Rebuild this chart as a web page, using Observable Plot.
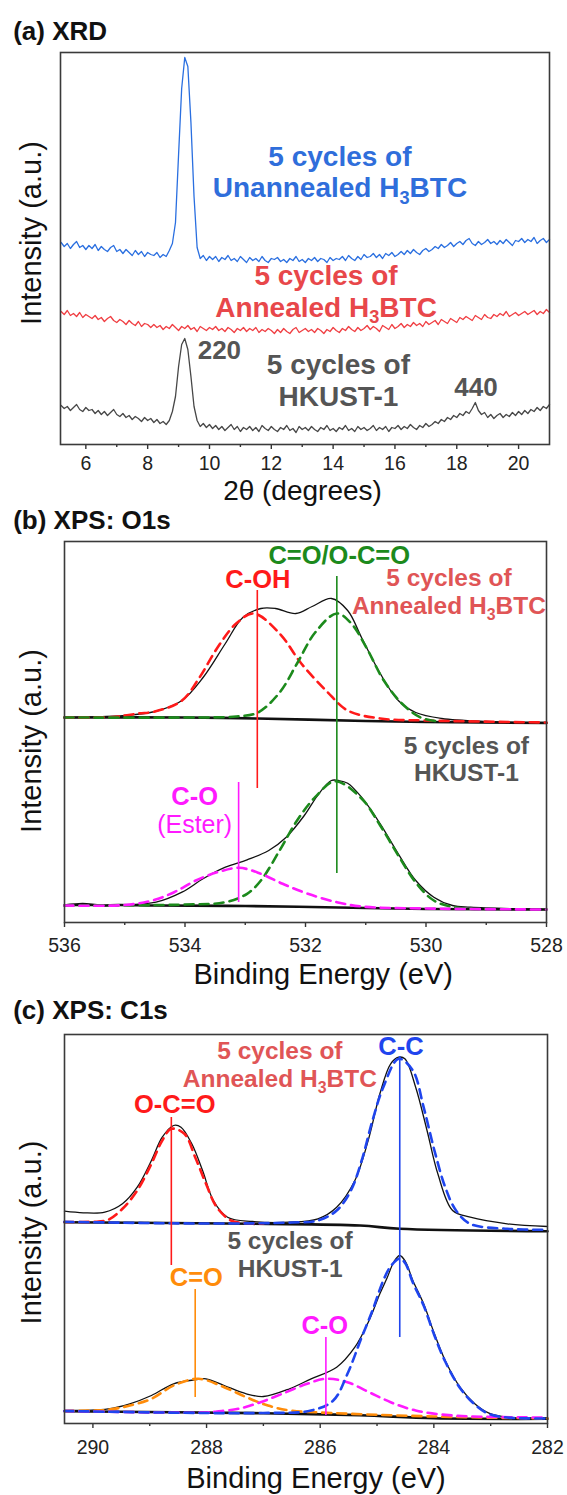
<!DOCTYPE html>
<html><head><meta charset="utf-8">
<script src="https://cdn.jsdelivr.net/npm/d3@7"></script>
<script src="https://cdn.jsdelivr.net/npm/@observablehq/plot@0.6"></script>
<style>
html,body{margin:0;padding:0;background:#fff;overflow:hidden;}
#root{position:relative;width:567px;height:1495px;}
#root svg{position:absolute;left:0;}
</style></head><body><div id="root"></div>
<script>
// ---------------- DATA ----------------
// (a) XRD, 2θ scanned from 5.2° in 0.1° steps
const thetaStart = 5.2, thetaStep = 0.1;
const xrdUnannealed = [
202,198,201,196,200,203,197,199,195,199,
196,200,194,198,195,193,197,199,193,195,
191,195,192,189,194,190,193,188,192,190,
189,192,187,190,188,194,201,222,290,356,
387,378,322,248,197,186,189,184,188,185,
188,183,187,185,189,184,186,183,188,185,
182,187,184,186,183,188,184,182,186,185,
187,183,185,182,186,184,188,183,185,182,
186,184,187,183,186,185,182,187,184,186,
185,188,184,189,186,184,188,185,190,187,
188,191,187,190,186,191,189,192,188,190,
193,190,194,191,195,192,190,194,196,193,
195,198,196,200,197,199,202,198,201,203,
200,204,206,201,199,203,200,202,205,201,
203,200,204,201,205,202,199,204,203,206,
202,205,203,207,201,204,206,202,205];
const xrdAnnealed = [
133,130,134,129,131,128,132,127,130,128,
126,129,125,127,123,126,128,124,122,125,
123,120,124,121,119,123,118,121,120,117,
120,117,119,115,118,116,120,117,114,118,
116,119,115,117,113,118,116,114,117,115,
118,114,116,113,117,115,112,116,114,117,
113,116,114,117,112,115,113,116,114,111,
115,112,116,113,111,115,117,112,114,116,
113,115,112,116,114,111,115,113,117,114,
112,116,114,118,115,113,117,114,116,119,
115,118,116,113,119,117,115,120,116,118,
121,117,120,118,122,119,121,118,123,120,
122,124,120,125,123,121,126,124,122,127,
125,128,126,124,129,127,125,130,127,126,
130,128,131,129,133,128,130,132,129,131,
133,130,132,134,130,133,131,135,132];
const xrdHKUST = [
39,36,38,34,37,40,35,33,37,34,
35,31,34,30,33,29,32,35,30,28,
31,27,29,25,28,26,23,27,24,26,
22,25,21,23,20,24,33,48,78,100,
106,95,68,38,24,18,21,17,20,16,
19,15,18,14,17,20,15,18,13,17,
15,18,14,17,13,19,16,14,18,15,
13,17,15,19,14,16,12,18,15,17,
14,18,15,13,17,15,19,14,16,13,
17,15,19,14,16,13,18,15,17,14,
16,19,14,17,15,18,13,17,16,19,
15,18,16,20,17,15,19,17,21,18,
20,23,21,25,23,27,25,29,27,31,
29,33,31,36,42,34,30,32,27,30,
26,29,31,27,30,28,32,29,33,30,
34,31,35,33,37,34,38,36,40];
const xrdTicks = [6, 8, 10, 12, 14, 16, 18, 20];
const xrdMinor = [7, 9, 11, 13, 15, 17, 19];
const xrdSampleLabels = [
  {x: 14.22, y: 247.3, text: "5 cycles of\nUnannealed H3BTC", key: "unannealed"},
  {x: 13.77, y: 127.8, text: "5 cycles of\nAnnealed H3BTC", key: "annealedA"},
  {x: 14.17, y: 38.8, text: "5 cycles of\nHKUST-1", key: "hkust"}
];
const xrdPeakLabels = [
  {x: 10.32, y: 86, text: "220", key: "hkust"},
  {x: 18.62, y: 49, text: "440", key: "hkust"}
];

// (b) XPS O1s  [binding energy eV, intensity a.u.]
const o1sAnnBg = [[536,205],[534,205],[532.8,204],[531,201.5],[530,200.5],[528,199.5]];
const o1sAnnEnv = [[536,205],[535.5,205.5],[535,207],[534.5,211],[534.05,222],[533.7,245],[533.33,279],[533.04,305],[532.74,314],[532.5,314],[532.16,309],[531.89,316],[531.57,324],[531.3,312],[531.07,285],[530.76,249],[530.46,222],[530.17,210],[529.74,204],[529,201],[528,200]];
const o1sAnnCOH = [[536,205],[535.2,205.5],[534.77,209],[534.5,211],[534.05,222],[533.76,245],[533.46,275],[533.15,299],[532.86,309],[532.43,289],[532.07,259],[531.66,232],[531.3,212],[530.76,204],[530,202],[528,200]];
const o1sAnnCO = [[536,205],[534,205],[533.15,206],[532.79,210],[532.43,230],[532.14,259],[531.84,290],[531.48,309],[531.24,299],[530.99,275],[530.7,242],[530.4,219],[530.09,205],[529.8,201]];
const o1sHkBg = [[536,17],[535.7,18.5],[535.4,17],[535.1,17.5],[534.5,17],[533,16.5],[531,14.5],[530,13.5],[528,13]];
const o1sHkEnv = [[536,17],[535,17.5],[534.48,20.3],[534.05,30.3],[533.7,43.7],[533.33,55.3],[532.97,62.7],[532.61,72],[532.32,85.3],[532.02,107],[531.78,128.7],[531.57,142],[531.45,142],[531.3,139.3],[531.07,125.3],[530.76,98.7],[530.46,68.7],[530.17,42],[529.87,25.3],[529.56,17],[529.26,15.3],[528,13]];
const o1sHkCO = [[536,17],[534,18],[533.33,20.3],[532.97,28.7],[532.74,42],[532.43,72],[532.14,102],[531.84,125.3],[531.51,141.3],[531.07,124],[530.76,97],[530.46,67],[530.17,40],[529.87,22],[529.5,15],[529,13.5]];
const o1sHkEster = [[536,17],[535,17.5],[534.54,22],[534.18,30.3],[533.82,42],[533.46,50.3],[533.1,54.7],[532.74,48.7],[532.38,38.7],[531.96,28.7],[531.48,20.3],[531.07,16],[530,14],[528,13]];
const o1sMarkers = [
  {eV: 532.8, y1: 134, y2: 332, key: "COH"},
  {eV: 531.48, y1: 49, y2: 346, key: "COgreen"},
  {eV: 533.11, y1: 20, y2: 140, key: "Ester"}
];
const o1sTicks = [536, 534, 532, 530, 528];
const o1sMinor = [535, 533, 531, 529];
const o1sPeakLabels = [
  {x: 531.44, y: 359, text: "C=O/O-C=O", key: "COgreen"},
  {x: 532.79, y: 335, text: "C-OH", key: "COH"}
];
const o1sEsterLabel = [{x: 533.84, y: 89.2, text: "C-O\n(Ester)", key: "Ester"}];
const o1sAnnLabel = [{x: 529.62, y: 308.8, text: "5 cycles of\nAnnealed H3BTC", key: "annealed"}];
const o1sHkLabel = [{x: 529.33, y: 141.3, text: "5 cycles of\nHKUST-1", key: "hkust"}];

// (c) XPS C1s
const c1sAnnBg = [[290.5,201.3],[287.2,199.7],[285.3,198],[284.6,194.7],[282,192.3]];
const c1sAnnEnv = [[290.5,212.3],[290.17,210.7],[289.79,211.3],[289.48,219.7],[289.22,236.3],[288.97,263],[288.78,286.3],[288.58,298],[288.45,296.3],[288.26,279.7],[288.07,253],[287.88,223],[287.63,206.3],[287.19,202],[286.54,201.3],[286.04,204.7],[285.71,216.3],[285.39,243],[285.14,286.3],[284.95,329.7],[284.76,359.7],[284.62,366.3],[284.51,364.7],[284.32,336.3],[284.12,293],[283.93,249.7],[283.67,213],[283.36,206.3],[282.71,199.7],[282,197]];
const c1sAnnOCO = [[290.5,201.5],[289.9,202],[289.73,203.7],[289.48,214.7],[289.22,233],[288.97,259.7],[288.78,283],[288.62,294.7],[288.39,289.7],[288.2,266.3],[288.01,239.7],[287.82,216.3],[287.57,203],[287.3,200.3],[287,200]];
const c1sAnnCC = [[290.5,201.7],[288,200],[286.5,201],[286.04,203],[285.71,213],[285.46,233],[285.27,263],[285.08,303],[284.89,336.3],[284.62,364.7],[284.37,353],[284.18,316.3],[283.99,273],[283.8,236.3],[283.61,213],[283.36,199.7],[282.71,194.7],[282,193.7]];
const c1sHkBg = [[290.5,12.3],[287,10.3],[285.3,8.3],[284,5.3],[282,4.7]];
const c1sHkEnv = [[290.5,13],[289.73,14.7],[289.35,19.7],[288.97,28],[288.58,39.7],[288.2,43.7],[288.01,44.7],[287.69,38],[287.3,29.7],[287.0,27],[286.54,34.7],[286.16,44.7],[285.71,56.3],[285.39,76.3],[285.14,103],[284.95,129.7],[284.82,146],[284.7,162],[284.6,168],[284.5,162],[284.37,143],[284.18,119.7],[283.99,89.7],[283.8,63],[283.54,36.3],[283.28,19.7],[283.03,10.3],[282.71,6.3],[282,5.7]];
const c1sHkCC = [[290.5,12.5],[287,10.5],[286.16,13],[285.77,23],[285.52,49.7],[285.27,86.3],[285.08,113],[284.89,143],[284.75,158],[284.6,165],[284.5,160],[284.37,141],[284.18,118],[283.99,88],[283.8,62],[283.54,35.5],[283.28,19],[283.03,9.5],[282.71,6],[282,5]];
const c1sHkCdO = [[290.5,12.5],[290,13],[289.73,13.7],[289.35,18],[288.97,24.7],[288.58,38],[288.14,44.7],[287.69,36.3],[287.3,26.3],[286.92,18],[286.54,13],[286,11],[284,7],[282,5]];
const c1sHkCO = [[290.5,12.5],[288,11],[287.82,12],[287.44,14.7],[287.05,21.3],[286.67,29.7],[286.23,39.7],[285.9,44.7],[285.52,41.3],[285.14,31.3],[284.76,21.3],[284.32,13],[283.67,8],[282,6]];
const c1sMarkers = [
  {eV: 288.62, y1: 158, y2: 306, key: "OCO"},
  {eV: 284.6, y1: 86, y2: 367, key: "CC"},
  {eV: 288.2, y1: 26, y2: 134, key: "CdO"},
  {eV: 285.9, y1: 8, y2: 86, key: "COmag"}
];
const c1sTicks = [290, 288, 286, 284, 282];
const c1sMinor = [289, 287, 285, 283];
const c1sPeakLabels = [
  {x: 284.58, y: 369, text: "C-C", key: "CC"},
  {x: 288.56, y: 311, text: "O-C=O", key: "OCO"},
  {x: 288.18, y: 138, text: "C=O", key: "CdO"},
  {x: 285.92, y: 90, text: "C-O", key: "COmag"}
];
const c1sAnnLabel = [{x: 286.71, y: 336.8, text: "5 cycles of\nAnnealed H3BTC", key: "annealed"}];
const c1sHkLabel = [{x: 286.53, y: 146.8, text: "5 cycles of\nHKUST-1", key: "hkust"}];

// ---------------- STYLE ----------------
const F = "'Liberation Sans', Arial, Helvetica, sans-serif";
const C = {
  unannealed: "#2F6EDB", annealedA: "#E8474A", annealed: "#E05556", hkust: "#555555",
  xrdBlue: "#2A6FE0", xrdRed: "#F03E42", xrdGray: "#474747",
  COH: "#FF1A1A", COgreen: "#1C8A1C", Ester: "#FF1AFF",
  CC: "#1F45EE", OCO: "#FF1A1A", CdO: "#FF8C0A", COmag: "#FF1AFF"
};
const dash = "9,6";
const LH = 1.12;

// ---------------- HELPERS ----------------
const NS = "http://www.w3.org/2000/svg";
function postText(svg) {
  svg.querySelectorAll("text, tspan").forEach(t => {
    if (t.childElementCount) return;
    const s = t.textContent;
    if (s.includes("H3BTC")) {
      const [pre, post] = s.split("H3BTC");
      t.textContent = "";
      t.appendChild(document.createTextNode(pre + "H"));
      const sub = document.createElementNS(NS, "tspan");
      sub.setAttribute("font-size", "65%");
      sub.setAttribute("dy", "0.37em");
      sub.textContent = "3";
      t.appendChild(sub);
      const rest = document.createElementNS(NS, "tspan");
      rest.setAttribute("dy", "-0.24em");
      rest.textContent = "BTC" + post;
      t.appendChild(rest);
    } else if (s === "(Ester)") {
      t.setAttribute("font-weight", "normal");
      t.setAttribute("font-size", "25");
    }
  });
}
function labels(arr, size, extra = {}) {
  return arr.map(d => Plot.text([d], {
    x: "x", y: "y", text: "text", fill: C[d.key], fontSize: size,
    fontWeight: "bold", textAnchor: "middle", lineAnchor: "bottom", ...extra
  }));
}
function xpsLine(arr, opts) {
  return Plot.line(arr, {x: d => d[0], y: d => d[1], curve: "catmull-rom", ...opts});
}
function axes(major, minor, pad) {
  return [
    Plot.axisX({ticks: major, tickSize: 5, tickPadding: pad, fontSize: 19.5, label: null,
      stroke: "#333", strokeWidth: 1.4, fill: "#222", fontFamily: F}),
    Plot.axisX({ticks: minor, tickSize: 3, tickFormat: () => "", label: null,
      stroke: "#333", strokeWidth: 1.4})
  ];
}
function common(title, titleDx, titleDy, yDx, yDy, xLabel, xDx, xDy, xSize = 29) {
  return [
    Plot.frame({stroke: "#3a3a3a", strokeWidth: 1.6}),
    Plot.text([title], {text: d => d, frameAnchor: "top-left", dx: titleDx, dy: titleDy,
      textAnchor: "start", lineAnchor: "bottom", fontSize: 26, fontWeight: "bold", fill: "#111"}),
    Plot.text(["Intensity (a.u.)"], {text: d => d, frameAnchor: "left", rotate: -90, dx: yDx, dy: yDy,
      textAnchor: "middle", lineAnchor: "middle", fontSize: 29, fill: "#111"}),
    Plot.text([xLabel], {text: d => d, frameAnchor: "bottom", dx: xDx, dy: xDy,
      textAnchor: "middle", lineAnchor: "bottom", fontSize: xSize, fill: "#111"})
  ];
}
function place(svg, top) {
  svg.style.top = top + "px";
  postText(svg);
  document.getElementById("root").appendChild(svg);
}
const baseStyle = {fontFamily: F, background: "transparent", overflow: "visible", color: "#222"};

// ---------------- (a) XRD ----------------
const xrdRows = [];
[[xrdUnannealed, "unannealed"], [xrdAnnealed, "annealed"], [xrdHKUST, "hkust"]].forEach(([arr, s]) =>
  arr.forEach((v, i) => xrdRows.push({theta: +(thetaStart + i * thetaStep).toFixed(1), I: v, sample: s})));

const plotA = Plot.plot({
  width: 567, height: 500,
  marginTop: 52, marginBottom: 56, marginLeft: 60, marginRight: 18,
  x: {domain: [5.18, 21.0]},
  y: {domain: [0, 392], axis: null},
  style: baseStyle,
  marks: [
    Plot.line(xrdRows.filter(d => d.sample === "unannealed"), {x: "theta", y: "I", stroke: C.xrdBlue, strokeWidth: 1.3}),
    Plot.line(xrdRows.filter(d => d.sample === "annealed"), {x: "theta", y: "I", stroke: C.xrdRed, strokeWidth: 1.3}),
    Plot.line(xrdRows.filter(d => d.sample === "hkust"), {x: "theta", y: "I", stroke: C.xrdGray, strokeWidth: 1.3}),
    ...labels(xrdSampleLabels, 28, {lineHeight: LH}),
    ...labels(xrdPeakLabels, 26),
    ...axes(xrdTicks, xrdMinor, 6.5),
    ...common("(a) XRD", -47.3, -12.7, -28.3, -15.5, "2θ (degrees)", -2.5, 55, 28)
  ]
});
place(plotA, 0);

// ---------------- (b) XPS O1s ----------------
const plotB = Plot.plot({
  width: 567, height: 495,
  marginTop: 41, marginBottom: 73, marginLeft: 64, marginRight: 21,
  x: {domain: [536, 528]},
  y: {domain: [0, 381], axis: null},
  style: baseStyle,
  marks: [
    xpsLine(o1sAnnBg, {stroke: "#111", strokeWidth: 2.6}),
    xpsLine(o1sHkBg, {stroke: "#111", strokeWidth: 2.6}),
    xpsLine(o1sAnnEnv, {stroke: "#111", strokeWidth: 1.3}),
    xpsLine(o1sHkEnv, {stroke: "#111", strokeWidth: 1.3}),
    xpsLine(o1sAnnCOH, {stroke: C.COH, strokeWidth: 2.6, strokeDasharray: dash}),
    xpsLine(o1sAnnCO, {stroke: C.COgreen, strokeWidth: 2.6, strokeDasharray: dash}),
    xpsLine(o1sHkCO, {stroke: C.COgreen, strokeWidth: 2.6, strokeDasharray: dash}),
    xpsLine(o1sHkEster, {stroke: C.Ester, strokeWidth: 2.6, strokeDasharray: dash}),
    ...o1sMarkers.map(m => Plot.ruleX([m], {x: "eV", y1: "y1", y2: "y2", stroke: C[m.key], strokeWidth: 1.6})),
    ...labels(o1sAnnLabel, 24.5, {lineHeight: LH}),
    ...labels(o1sHkLabel, 24.5, {lineHeight: LH}),
    ...labels(o1sPeakLabels, 25.5),
    ...labels(o1sEsterLabel, 25.5, {lineHeight: LH}),
    ...axes(o1sTicks, o1sMinor, 10.5),
    ...common("(b) XPS: O1s", -51.3, -12.7, -32.3, 9, "Binding Energy (eV)", 17.7, 61)
  ]
});
place(plotB, 500);

// ---------------- (c) XPS C1s ----------------
const plotC = Plot.plot({
  width: 567, height: 500,
  marginTop: 39, marginBottom: 72, marginLeft: 64, marginRight: 20,
  x: {domain: [290.5, 282]},
  y: {domain: [0, 389], axis: null},
  style: baseStyle,
  marks: [
    xpsLine(c1sAnnBg, {stroke: "#111", strokeWidth: 2.6}),
    xpsLine(c1sHkBg, {stroke: "#111", strokeWidth: 2.6}),
    xpsLine(c1sAnnEnv, {stroke: "#111", strokeWidth: 1.3}),
    xpsLine(c1sHkEnv, {stroke: "#111", strokeWidth: 1.3}),
    xpsLine(c1sAnnOCO, {stroke: C.OCO, strokeWidth: 2.6, strokeDasharray: dash}),
    xpsLine(c1sAnnCC, {stroke: C.CC, strokeWidth: 2.6, strokeDasharray: dash}),
    xpsLine(c1sHkCdO, {stroke: C.CdO, strokeWidth: 2.6, strokeDasharray: dash}),
    xpsLine(c1sHkCO, {stroke: C.COmag, strokeWidth: 2.6, strokeDasharray: dash}),
    xpsLine(c1sHkCC, {stroke: C.CC, strokeWidth: 2.6, strokeDasharray: dash}),
    ...c1sMarkers.map(m => Plot.ruleX([m], {x: "eV", y1: "y1", y2: "y2", stroke: C[m.key], strokeWidth: 1.6})),
    ...labels(c1sAnnLabel, 24.5, {lineHeight: LH}),
    ...labels(c1sHkLabel, 24.5, {lineHeight: LH}),
    ...labels(c1sPeakLabels, 25.5),
    ...axes(c1sTicks, c1sMinor, 11.5),
    ...common("(c) XPS: C1s", -51.3, -16, -32.3, 3.5, "Binding Energy (eV)", 10, 64.7)
  ]
});
place(plotC, 995);
</script></body></html>
